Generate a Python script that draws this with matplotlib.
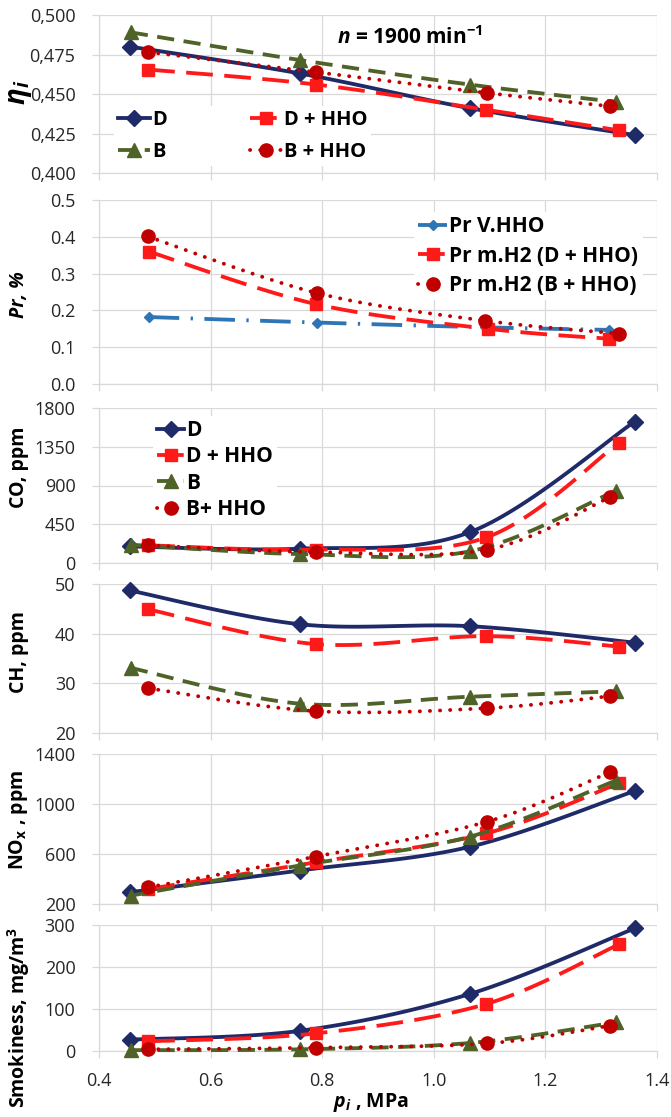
import numpy as np
import matplotlib
matplotlib.use("Agg")
import matplotlib.pyplot as plt
from matplotlib.lines import Line2D
from matplotlib.ticker import FuncFormatter

plt.rcParams['font.family'] = ['Open Sans', 'DejaVu Sans']
plt.rcParams['mathtext.fontset'] = 'custom'
plt.rcParams['mathtext.rm'] = 'Open Sans'
plt.rcParams['mathtext.it'] = 'Open Sans:italic'
plt.rcParams['mathtext.bf'] = 'Open Sans:bold'
plt.rcParams['mathtext.bfit'] = 'Open Sans:italic:bold'

# ---------------- data ----------------
x_d = [0.455, 0.76, 1.065, 1.36]
x_dh = [0.488, 0.789, 1.094, 1.332]
x_b = [0.457, 0.76, 1.064, 1.326]
x_bh = [0.488, 0.789, 1.095, 1.315]

eta_d = [0.480, 0.463, 0.441, 0.424]
eta_dh = [0.4655, 0.456, 0.440, 0.427]
eta_b = [0.489, 0.4715, 0.456, 0.445]
eta_bh = [0.4765, 0.4638, 0.4507, 0.4423]

pr_x_v = [0.489, 0.791, 1.092, 1.314]
pr_x_d = [0.489, 0.789, 1.098, 1.314]
pr_x_b = [0.487, 0.791, 1.092, 1.332]
pr_v = [0.182, 0.167, 0.154, 0.147]
pr_md = [0.360, 0.217, 0.150, 0.123]
pr_mb = [0.401, 0.247, 0.172, 0.137]

co_d = [193, 166, 359, 1642]
co_dh = [205, 155, 297, 1398]
co_b = [212, 104, 135, 838]
co_bh = [205, 127, 155, 761]

ch_d = [48.7, 41.9, 41.5, 38.2]
ch_dh = [44.9, 37.9, 39.5, 37.4]
ch_b = [33.1, 25.9, 27.3, 28.4]
ch_bh = [29.0, 24.4, 25.0, 27.4]

nox_d = [294, 468, 658, 1104]
nox_dh = [320, 534, 765, 1166]
nox_b = [267, 508, 738, 1187]
nox_bh = [334, 580, 858, 1253]

sm_d = [27, 48, 136, 292]
sm_dh = [23, 42, 112, 254]
sm_b = [2, 4, 19, 68]
sm_bh = [4, 8, 18, 60]

x_ticks = [0.4, 0.6, 0.8, 1.0, 1.2, 1.4]
eta_ticks = [0.400, 0.425, 0.450, 0.475, 0.500]
pr_ticks = [0.0, 0.1, 0.2, 0.3, 0.4, 0.5]
co_ticks = [0, 450, 900, 1350, 1800]
ch_ticks = [20, 30, 40, 50]
nox_ticks = [200, 600, 1000, 1400]
sm_ticks = [0, 100, 200, 300]

# ---------------- styles ----------------
LW = 2.75
ST_D = dict(color='#1f2a68', ls='-', marker='D', ms=8.5)
ST_DH = dict(color='#ff1a1a', ls=(0, (7, 3)), marker='s', ms=9)
ST_B = dict(color='#4f6228', ls=(0, (4.5, 2.5)), marker='^', ms=10.5)
ST_BH = dict(color='#c00000', ls=(0, (0.05, 2.6)), marker='o', ms=9.5)
ST_V = dict(color='#2e75b6', ls=(0, (8, 3, 0.6, 3)), marker='D', ms=5)

W, H = 671, 1117
fig = plt.figure(figsize=(W / 100, H / 100), dpi=100)


def smooth(x, y, n=40):
    pts = np.column_stack([x, y]).astype(float)
    P = np.vstack([pts[0], pts, pts[-1]])
    out = [pts[:1]]
    t = np.linspace(0, 1, n)[1:, None]
    for i in range(len(pts) - 1):
        p0, p1, p2, p3 = P[i], P[i + 1], P[i + 2], P[i + 3]
        c1 = p1 + (p2 - p0) / 6.0
        c2 = p2 - (p3 - p1) / 6.0
        seg = ((1 - t) ** 3) * p1 + 3 * ((1 - t) ** 2) * t * c1 + 3 * (1 - t) * t ** 2 * c2 + t ** 3 * p2
        out.append(seg)
    a = np.vstack(out)
    return a[:, 0], a[:, 1]


def draw(ax, x, y, st, z):
    cap = 'round' if st is ST_BH else 'butt'
    xs, ys = smooth(x, y)
    ax.plot(xs, ys, color=st['color'], lw=LW, ls=st['ls'], dash_capstyle=cap,
            zorder=z, clip_on=False)
    ax.plot(x, y, ls='none', marker=st['marker'], ms=st['ms'], color=st['color'],
            mec=st['color'], zorder=z + 0.5, clip_on=False)
    return Line2D([], [], color=st['color'], lw=LW, ls=st['ls'], marker=st['marker'],
                  ms=st['ms'], dash_capstyle=cap)


def make_ax(ytop, ybot, ticks, fmt, bottom_labels=False):
    left, right = 99, 657
    ax = fig.add_axes([left / W, 1 - ybot / H, (right - left) / W, (ybot - ytop) / H])
    ax.set_xlim(0.4, 1.4)
    ax.set_xticks(x_ticks)
    ax.set_ylim(ticks[0], ticks[-1])
    ax.set_yticks(ticks)
    ax.yaxis.set_major_formatter(FuncFormatter(fmt))
    ax.grid(True, color='#d9d9d9', lw=0.9)
    ax.set_axisbelow(True)
    for s in ['top', 'right']:
        ax.spines[s].set_visible(False)
    for s in ['left', 'bottom']:
        ax.spines[s].set_color('#d9d9d9')
        ax.spines[s].set_linewidth(0.9)
    ax.tick_params(axis='y', length=5, width=0.9, color='#d9d9d9', labelsize=13,
                   labelcolor='#262626', pad=12)
    ax.tick_params(axis='x', length=5, width=0.9, color='#d9d9d9', labelsize=13,
                   labelcolor='#262626', pad=10, labelbottom=bottom_labels)
    ax.patch.set_alpha(0)
    return ax


def legend(ax, handles, labels, x, y, fs, **kw):
    lg = ax.legend(handles, labels, loc='upper left', bbox_to_anchor=(x / W, 1 - y / H),
                   bbox_transform=fig.transFigure, frameon=True, facecolor='white',
                   edgecolor='none', framealpha=1, borderaxespad=0, borderpad=0.2,
                   prop=dict(size=fs, weight='bold'), **kw)
    lg.set_zorder(20)
    return lg


# ---- panel 1: efficiency ----
ax1 = make_ax(15, 173, eta_ticks, lambda v, p: f"{v:.3f}".replace('.', ','))
h1 = draw(ax1, x_d, eta_d, ST_D, 3)
h2 = draw(ax1, x_dh, eta_dh, ST_DH, 4)
h3 = draw(ax1, x_b, eta_b, ST_B, 5)
h4 = draw(ax1, x_bh, eta_bh, ST_BH, 6)
legend(ax1, [h1, h3, h2, h4], ['D', 'B', 'D + HHO', 'B + HHO'], 114, 106, 14.5,
       ncol=2, handlelength=1.6, handletextpad=0.1, columnspacing=4.1, labelspacing=0.6)
fig.text(410 / W, 1 - 38 / H, r'$\mathbfit{n}$ = 1900 min$^{\mathbf{-1}}$', ha='center',
         va='center', fontsize=15, fontweight='bold')

# ---- panel 2: Pr ----
ax2 = make_ax(200, 384, pr_ticks, lambda v, p: f"{v:.1f}")
g1 = draw(ax2, pr_x_v, pr_v, ST_V, 3)
g2 = draw(ax2, pr_x_d, pr_md, ST_DH, 4)
g3 = draw(ax2, pr_x_b, pr_mb, ST_BH, 5)
legend(ax2, [g1, g2, g3], ['Pr V.HHO', 'Pr m.H2 (D + HHO)', 'Pr m.H2 (B + HHO)'], 414, 212, 15,
       handlelength=1.4, handletextpad=0.1, labelspacing=0.4)

# ---- panel 3: CO ----
ax3 = make_ax(408, 563, co_ticks, lambda v, p: f"{v:.0f}")
k1 = draw(ax3, x_d, co_d, ST_D, 3)
k2 = draw(ax3, x_dh, co_dh, ST_DH, 4)
k3 = draw(ax3, x_b, co_b, ST_B, 5)
k4 = draw(ax3, x_bh, co_bh, ST_BH, 6)
legend(ax3, [k1, k2, k3, k4], ['D', 'D + HHO', 'B', 'B+ HHO'], 153, 416, 15,
       handlelength=1.3, handletextpad=0.1, labelspacing=0.25)

# ---- panel 4: CH ----
ax4 = make_ax(584, 733, ch_ticks, lambda v, p: f"{v:.0f}")
draw(ax4, x_d, ch_d, ST_D, 3)
draw(ax4, x_dh, ch_dh, ST_DH, 4)
draw(ax4, x_b, ch_b, ST_B, 5)
draw(ax4, x_bh, ch_bh, ST_BH, 6)

# ---- panel 5: NOx ----
ax5 = make_ax(754, 904, nox_ticks, lambda v, p: f"{v:.0f}")
draw(ax5, x_d, nox_d, ST_D, 3)
draw(ax5, x_dh, nox_dh, ST_DH, 4)
draw(ax5, x_b, nox_b, ST_B, 5)
draw(ax5, x_bh, nox_bh, ST_BH, 6)

# ---- panel 6: smokiness ----
ax6 = make_ax(925, 1051, sm_ticks, lambda v, p: f"{v:.0f}", bottom_labels=True)
ax6.xaxis.set_major_formatter(FuncFormatter(lambda v, p: f"{v:.1f}"))
draw(ax6, x_d, sm_d, ST_D, 3)
draw(ax6, x_dh, sm_dh, ST_DH, 4)
draw(ax6, x_b, sm_b, ST_B, 5)
draw(ax6, x_bh, sm_bh, ST_BH, 6)

# ---- axis titles ----
def ylab(txt, y, size=14, style='normal'):
    fig.text(19 / W, 1 - y / H, txt, rotation=90, ha='center', va='center',
             fontsize=size, fontweight='bold', fontstyle=style)

ylab(r'$\mathbfit{\eta_i}$', 92, size=20)
ylab('Pr, %', 295, style='italic')
ylab('CO, ppm', 467)
ylab('CH, ppm', 652)
ylab(r'NO$_{\mathbf{x}}$ , ppm', 820)
ylab(r'Smokiness, mg/m$^{\mathbf{3}}$', 1017)
fig.text(371 / W, 1 - 1102 / H, r'$\mathbfit{p}_{\mathbfit{i}}$ , MPa', ha='center', va='center',
         fontsize=14, fontweight='bold')

fig.savefig('out.png', dpi=100)
